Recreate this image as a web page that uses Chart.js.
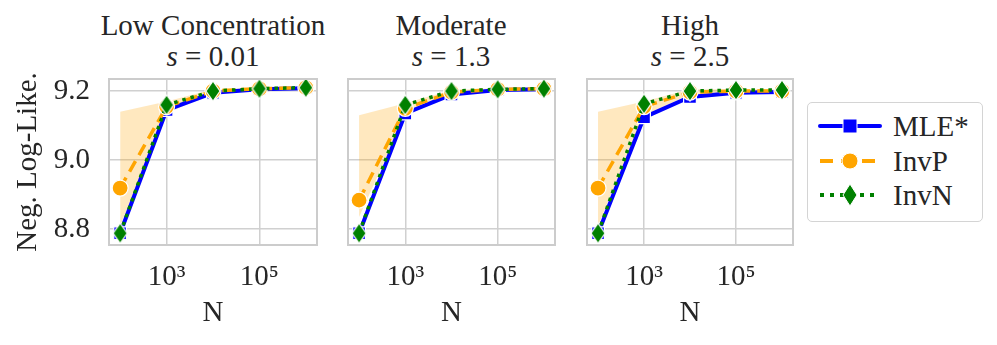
<!DOCTYPE html>
<html>
<head>
<meta charset="utf-8">
<script src="https://cdn.jsdelivr.net/npm/chart.js@4/dist/chart.umd.min.js"></script>
<style>
  body { margin: 0; background: #fff; }
  #wrap { position: relative; width: 997px; height: 345px; font-family: "Liberation Serif", "DejaVu Serif", serif; color: #262626; }
  canvas { position: absolute; }
  .ttl { position: absolute; top: 10px; width: 280px; text-align: center; font-size: 29px; line-height: 31px; }
  #legend { position: absolute; left: 807px; top: 102px; width: 174px; height: 118px; border: 1.5px solid #d4d4d4; border-radius: 5px; font-size: 29px; }
  .lg { position: absolute; left: 9px; height: 32px; display: flex; align-items: center; }
  .lg svg { margin-right: 10px; }
</style>
</head>
<body>
<div id="wrap">
  <div class="ttl" style="left:73px">Low Concentration<br><i>s</i> = 0.01</div>
  <div class="ttl" style="left:311px">Moderate<br><i>s</i> = 1.3</div>
  <div class="ttl" style="left:550px">High<br><i>s</i> = 2.5</div>
  <canvas id="c0" width="320" height="275" style="left:0px;top:70px"></canvas>
  <canvas id="c1" width="220" height="275" style="left:338px;top:70px"></canvas>
  <canvas id="c2" width="220" height="275" style="left:577px;top:70px"></canvas>
  <div id="legend">
    <div class="lg" style="top:7px">
      <svg width="66" height="22"><line x1="3" y1="11" x2="63" y2="11" stroke="#0000ff" stroke-width="4" stroke-linecap="round"/><rect x="26" y="4" width="14" height="14" fill="#0000ff" stroke="#fff" stroke-width="1"/></svg>MLE*</div>
    <div class="lg" style="top:42px">
      <svg width="66" height="22"><line x1="3" y1="11" x2="63" y2="11" stroke="#ffa500" stroke-width="4" stroke-dasharray="13,8"/><circle cx="33" cy="11" r="8" fill="#ffa500" stroke="#fff" stroke-width="1"/></svg>InvP</div>
    <div class="lg" style="top:76px">
      <svg width="66" height="26"><line x1="3" y1="13" x2="63" y2="13" stroke="#008000" stroke-width="4" stroke-dasharray="4,6"/><polygon points="33,2 40,13 33,24 26,13" fill="#008000" stroke="#fff" stroke-width="1"/></svg>InvN</div>
  </div>
</div>
<script>
var Ns = [100, 1000, 10000, 100000, 1000000];
var panels = ['Low Concentration', 'Moderate', 'High'];

var mle = [
  [8.788, 9.145, 9.195, 9.205, 9.208],
  [8.788, 9.135, 9.19, 9.203, 9.205],
  [8.788, 9.124, 9.183, 9.195, 9.197]
];
var invP = [
  [8.919, 9.155, 9.2, 9.207, 9.21],
  [8.884, 9.15, 9.197, 9.205, 9.207],
  [8.919, 9.155, 9.197, 9.2, 9.2]
];
var invN = [
  [8.788, 9.16, 9.2, 9.207, 9.21],
  [8.788, 9.16, 9.2, 9.205, 9.207],
  [8.788, 9.163, 9.2, 9.203, 9.203]
];
var invPHigh = [
  [9.14, 9.17, 9.205, 9.21, 9.212],
  [9.13, 9.165, 9.203, 9.208, 9.21],
  [9.14, 9.17, 9.205, 9.205, 9.205]
];
var invPLow = [
  [8.81, 9.135, 9.195, 9.204, 9.207],
  [8.835, 9.13, 9.19, 9.202, 9.204],
  [8.81, 9.13, 9.19, 9.195, 9.195]
];
var yTicks = [8.8, 9.0, 9.2];
var xTicks = [1000, 100000];

// thin diamond marker like matplotlib 'd'
function diamond() {
  var c = document.createElement('canvas');
  c.width = 16; c.height = 22;
  var g = c.getContext('2d');
  g.beginPath();
  g.moveTo(8, 1); g.lineTo(15, 11); g.lineTo(8, 21); g.lineTo(1, 11); g.closePath();
  g.fillStyle = '#008000'; g.fill();
  g.strokeStyle = '#fff'; g.lineWidth = 1.2; g.stroke();
  return c;
}
var dia = diamond();

var frame = {
  id: 'frame',
  afterDraw: function(chart) {
    var a = chart.chartArea, ctx = chart.ctx;
    ctx.save();
    ctx.strokeStyle = '#cccccc';
    ctx.lineWidth = 2;
    ctx.strokeRect(a.left, a.top, a.right - a.left, a.bottom - a.top);
    ctx.restore();
  }
};

var sup = { 3: '³', 5: '⁵' };
var font = { family: '"Liberation Serif", "DejaVu Serif", serif', size: 29 };
var yW = [109, 10, 10];
var padR = [3, 3, 4];

function pts(arr) {
  return Ns.map(function(n, i) { return { x: n, y: arr[i] }; });
}

for (var p = 0; p < 3; p++) {
  (function(p) {
    new Chart(document.getElementById('c' + p), {
      type: 'line',
      data: {
        datasets: [
          { label: 'InvN', data: pts(invN[p]), borderColor: '#008000', borderWidth: 3.5, borderDash: [3.5, 5],
            pointStyle: dia, pointBackgroundColor: '#008000', order: 1 },
          { label: 'InvP', data: pts(invP[p]), borderColor: '#ffa500', borderWidth: 3.5, borderDash: [12, 7],
            pointStyle: 'circle', pointRadius: 8, pointBackgroundColor: '#ffa500', pointBorderColor: '#fff', pointBorderWidth: 1.2, order: 2 },
          { label: 'MLE*', data: pts(mle[p]), borderColor: '#0000ff', borderWidth: 4,
            pointStyle: 'rect', pointRadius: 9, pointBackgroundColor: '#0000ff', pointBorderColor: '#fff', pointBorderWidth: 1.2, order: 3 },
          { label: 'hi', data: pts(invPHigh[p]), borderWidth: 0, pointRadius: 0, fill: false, order: 10 },
          { label: 'lo', data: pts(invPLow[p]), borderWidth: 0, pointRadius: 0, fill: '-1',
            backgroundColor: 'rgba(255,165,0,0.25)', order: 11 }
        ]
      },
      options: {
        animation: false,
        responsive: false,
        layout: { autoPadding: false, padding: { top: 9, right: padR[p], left: 0, bottom: 0 } },
        plugins: { legend: { display: false }, tooltip: { enabled: false } },
        scales: {
          x: {
            type: 'logarithmic', min: Math.pow(10, 1.76), max: Math.pow(10, 6.24),
            afterBuildTicks: function(s) { s.ticks = xTicks.map(function(v) { return { value: v }; }); },
            afterFit: function(s) { s.height = 100; s.paddingLeft = 0; s.paddingRight = 0; },
            grid: { color: '#d0d0d0', lineWidth: 1.5, drawTicks: false },
            border: { display: false },
            ticks: { font: font, color: '#262626', padding: 15, maxRotation: 0,
              callback: function(v) { return '10' + sup[Math.round(Math.log10(v))]; } },
            title: { display: true, text: 'N', font: font, color: '#262626', padding: { top: 0, bottom: 14 } }
          },
          y: {
            min: 8.754, max: 9.235,
            afterBuildTicks: function(s) { s.ticks = yTicks.map(function(v) { return { value: v }; }); },
            afterFit: function(s) { s.width = yW[p]; s.paddingTop = 0; s.paddingBottom = 0; },
            grid: { color: '#d0d0d0', lineWidth: 1.5, drawTicks: false },
            border: { display: false },
            ticks: { display: p === 0, font: font, color: '#262626', padding: 19,
              callback: function(v) { return v.toFixed(1); } },
            title: { display: p === 0, text: 'Neg. Log-Like.', font: font, color: '#262626', padding: { top: 11, bottom: 0 } }
          }
        }
      },
      plugins: [frame]
    });
  })(p);
}
</script>
</body>
</html>
